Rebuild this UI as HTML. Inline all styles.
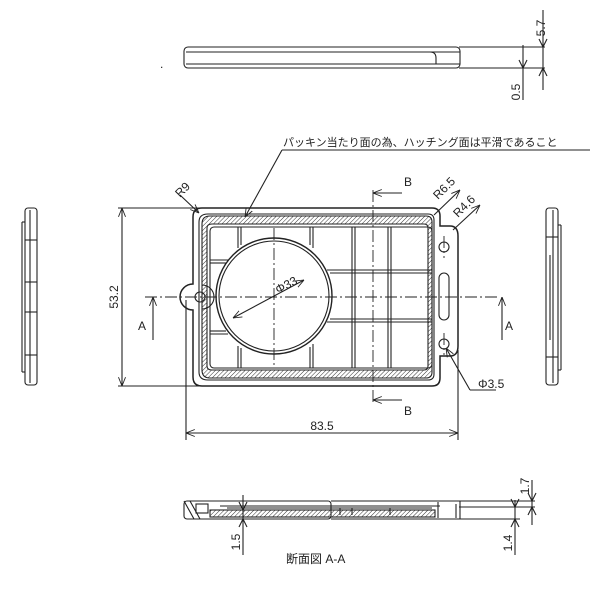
<!DOCTYPE html>
<html><head><style>body{margin:0;background:#fff}svg{display:block}</style></head>
<body>
<svg width="600" height="600" viewBox="0 0 600 600" xmlns="http://www.w3.org/2000/svg" font-family="Liberation Sans, Noto Sans CJK JP, sans-serif">
<defs>
<pattern id="h" width="3" height="3" patternUnits="userSpaceOnUse" patternTransform="rotate(45)"><line x1="0" y1="0" x2="0" y2="3" stroke="#333" stroke-width="1"/></pattern>
<marker id="a" viewBox="0 0 10 10" refX="10" refY="5" markerWidth="8" markerHeight="8" orient="auto-start-reverse"><path d="M0,1 L10,5 L0,9" fill="none" stroke="#222" stroke-width="1"/></marker>
</defs>
<g stroke="#222" fill="none" stroke-width="1.1">
<rect x="184" y="47" width="276" height="21" rx="4"/>
<line x1="186" y1="52" x2="460" y2="52"/>
<line x1="186" y1="64" x2="460" y2="64"/>
<path d="M195,52 H430 Q436,52 436,58 V64"/>
<line x1="459" y1="47" x2="545" y2="47"/><line x1="459" y1="68" x2="545" y2="68"/>
<line x1="523" y1="45" x2="523" y2="100"/><line x1="543" y1="10" x2="543" y2="90"/>
<path d="M543,47 l-4,-8 M543,47 l4,-8 M543,68 l-4,8 M543,68 l4,8 M523,68 l-4,-8 M523,68 l4,-8"/>
<rect x="25" y="208" width="12" height="177" rx="3"/>
<line x1="22" y1="222" x2="22" y2="372"/><line x1="22" y1="222" x2="25" y2="222"/><line x1="22" y1="372" x2="25" y2="372"/>
<line x1="30" y1="210" x2="30" y2="383"/>
<line x1="25" y1="240" x2="37" y2="240"/><line x1="25" y1="355" x2="37" y2="355"/>
<line x1="25" y1="282" x2="37" y2="282"/><line x1="25" y1="312" x2="37" y2="312"/>
<rect x="546" y="208" width="12" height="177" rx="3"/>
<line x1="561" y1="225" x2="561" y2="370"/><line x1="558" y1="225" x2="561" y2="225"/><line x1="558" y1="370" x2="561" y2="370"/>
<line x1="553" y1="210" x2="553" y2="383"/>
<line x1="546" y1="237" x2="558" y2="237"/><line x1="546" y1="357" x2="558" y2="357"/>
<line x1="550" y1="255" x2="550" y2="340"/>
<path d="M202,208 H432 Q440,208 440,216 V226 H450 Q458,226 458,236 V346 Q458,356 450,356 H440 V378 Q440,386 432,386 H202 Q193,386 193,377 V310 A10,10 0 0 1 193,284 V217 Q193,208 202,208 Z" stroke-width="1.5"/>
<path d="M208,214 H428 Q434,214 434,220 V374 Q434,380 428,380 H208 Q199,380 199,372 V222 Q199,214 208,214 Z"/>
<path fill-rule="evenodd" fill="url(#h)" d="M210,216 H426 Q432,216 432,222 V372 Q432,378 426,378 H210 Q202,378 202,370 V224 Q202,216 210,216 Z M212,224 H424 Q428,224 428,228 V366 Q428,370 424,370 H212 Q207,370 207,366 V228 Q207,224 212,224 Z"/>
<rect x="210" y="227" width="222" height="141" rx="4"/>
<path d="M202,285 A12,12 0 0 1 202,309" />
<circle cx="200" cy="297" r="5"/>
<circle cx="274" cy="296" r="58" stroke-width="1.4"/><circle cx="274" cy="296" r="55"/>
<g stroke-width="1.1">
<line x1="238" y1="227" x2="238" y2="248"/><line x1="238" y1="346" x2="238" y2="368"/>
<line x1="241" y1="227" x2="241" y2="245"/><line x1="241" y1="348" x2="241" y2="368"/>
<line x1="310" y1="227" x2="310" y2="245"/><line x1="313" y1="227" x2="313" y2="248"/>
<line x1="310" y1="347" x2="310" y2="368"/><line x1="313" y1="344" x2="313" y2="368"/>
<line x1="352" y1="227" x2="352" y2="368"/><line x1="355" y1="227" x2="355" y2="368"/>
<line x1="388" y1="227" x2="388" y2="368"/><line x1="391" y1="227" x2="391" y2="368"/>
<line x1="327" y1="270" x2="432" y2="270"/><line x1="330" y1="273" x2="432" y2="273"/>
<line x1="330" y1="319" x2="432" y2="319"/><line x1="327" y1="322" x2="432" y2="322"/>
<line x1="210" y1="260" x2="228" y2="260"/><line x1="210" y1="263" x2="226" y2="263"/>
<line x1="210" y1="331" x2="226" y2="331"/><line x1="210" y1="334" x2="228" y2="334"/>
</g>
<circle cx="444" cy="247" r="5"/><circle cx="444" cy="344" r="5"/>
<rect x="439" y="273" width="10" height="47" rx="5"/>
<g stroke-dasharray="12,3,2,3" stroke-width="0.9">
<line x1="145" y1="297" x2="500" y2="297"/>
<line x1="373" y1="190" x2="373" y2="405"/>
<line x1="274" y1="228" x2="274" y2="366"/>
<line x1="444" y1="236" x2="444" y2="258"/><line x1="444" y1="333" x2="444" y2="355"/>
</g>
<line x1="153" y1="297" x2="153" y2="340" marker-start="url(#a)"/>
<line x1="502" y1="297" x2="502" y2="340" marker-start="url(#a)"/>
<line x1="373" y1="193" x2="402" y2="193" marker-start="url(#a)"/>
<line x1="373" y1="400" x2="402" y2="400" marker-start="url(#a)"/>
<line x1="118" y1="208" x2="200" y2="208"/><line x1="118" y1="386" x2="200" y2="386"/>
<line x1="122" y1="208" x2="122" y2="386" marker-start="url(#a)" marker-end="url(#a)"/>
<line x1="186" y1="300" x2="186" y2="440"/><line x1="458" y1="350" x2="458" y2="440"/>
<line x1="186" y1="433" x2="458" y2="433" marker-start="url(#a)" marker-end="url(#a)"/>
<line x1="233" y1="318" x2="304" y2="280" marker-start="url(#a)" marker-end="url(#a)"/>
<line x1="180" y1="195" x2="199" y2="213" marker-end="url(#a)"/>
<line x1="434" y1="215" x2="460" y2="190" marker-end="url(#a)"/>
<line x1="453" y1="230" x2="480" y2="205" marker-end="url(#a)"/>
<line x1="496" y1="390" x2="470" y2="390"/><line x1="470" y1="390" x2="446" y2="348" marker-end="url(#a)"/>
<line x1="590" y1="150" x2="282" y2="150"/><line x1="282" y1="150" x2="245" y2="217" marker-end="url(#a)"/>
<rect x="184" y="501" width="147" height="18" rx="3"/>
<path d="M331,501 H460 M331,519 H460 M460,501 V519"/>
<line x1="220" y1="506" x2="440" y2="506"/>
<line x1="227" y1="508" x2="432" y2="508"/>
<rect x="210" y="510" width="225" height="7" fill="url(#h)"/>
<path d="M184,501 L194,519 M190,501 L200,519" />
<rect x="196" y="504" width="12" height="9"/>
<line x1="340" y1="508" x2="340" y2="515"/><line x1="352" y1="508" x2="352" y2="515"/><line x1="390" y1="508" x2="390" y2="515"/>
<line x1="438" y1="502" x2="438" y2="518"/><line x1="456" y1="504" x2="456" y2="518"/>
<line x1="243" y1="495" x2="243" y2="555"/>
<path d="M243,510 l-4,-8 M243,510 l4,-8 M243,519 l-4,8 M243,519 l4,8"/>
<line x1="459" y1="501" x2="535" y2="501"/><line x1="459" y1="507" x2="535" y2="507"/><line x1="459" y1="519" x2="520" y2="519"/>
<line x1="515" y1="500" x2="515" y2="555"/><line x1="532" y1="480" x2="532" y2="525"/>
<path d="M532,501 l-4,-8 M532,501 l4,-8 M532,507 l-4,8 M532,507 l4,8 M515,507 l-4,-8 M515,507 l4,-8 M515,519 l-4,8 M515,519 l4,8"/>
</g>
<g fill="#222" font-size="12">
<text x="160" y="68">.</text>
<text transform="translate(545,28) rotate(-90)" text-anchor="middle">5.7</text>
<text transform="translate(520,92) rotate(-90)" text-anchor="middle">0.5</text>
<text x="283" y="146" font-size="11">パッキン当たり面の為、ハッチング面は平滑であること</text>
<text x="404" y="186">B</text><text x="404" y="415">B</text>
<text x="138" y="330">A</text><text x="505" y="330">A</text>
<text transform="translate(118,297) rotate(-90)" text-anchor="middle">53.2</text>
<text x="322" y="430" text-anchor="middle">83.5</text>
<text transform="translate(278,294) rotate(-28)" >Φ33</text>
<text transform="translate(180,198) rotate(-45)">R9</text>
<text transform="translate(438,200) rotate(-45)">R6.5</text>
<text transform="translate(458,218) rotate(-45)">R4.6</text>
<text x="478" y="388">Φ3.5</text>
<text transform="translate(529,486) rotate(-90)" text-anchor="middle">1.7</text>
<text transform="translate(240,542) rotate(-90)" text-anchor="middle">1.5</text>
<text transform="translate(512,543) rotate(-90)" text-anchor="middle">1.4</text>
<text x="286" y="563">断面図 A-A</text>
</g>
</svg>
</body></html>
